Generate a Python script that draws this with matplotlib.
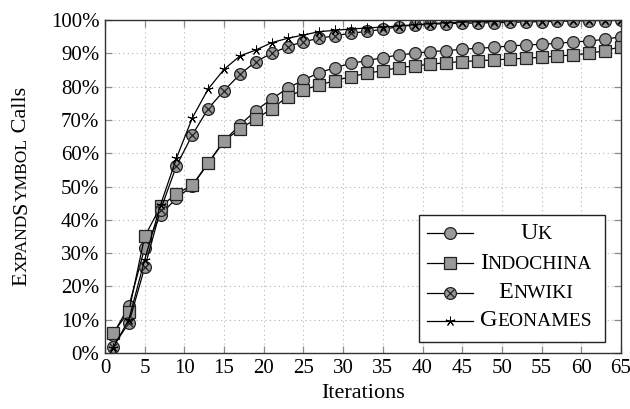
import matplotlib
matplotlib.use("Agg")
import matplotlib.pyplot as plt
from matplotlib.patches import Rectangle
from matplotlib.offsetbox import AnchoredOffsetbox, HPacker, TextArea
from matplotlib.ticker import FuncFormatter

plt.rcParams['font.family'] = ['Liberation Serif', 'DejaVu Serif']

iterations = [1, 3, 5, 7, 9, 11, 13, 15, 17, 19, 21, 23, 25, 27, 29, 31, 33,
              35, 37, 39, 41, 43, 45, 47, 49, 51, 53, 55, 57, 59, 61, 63, 65]
uk = [5.5, 14, 31.5, 41.5, 46.5, 50.2, 57, 63.7, 68.5, 72.8, 76.3, 79.5, 82,
      84.2, 85.7, 87, 87.8, 88.7, 89.5, 90, 90.5, 90.8, 91.2, 91.5, 91.8, 92.2,
      92.5, 92.7, 93, 93.4, 93.7, 94.2, 95]
indochina = [6, 12.4, 35, 44, 47.8, 50.4, 57.1, 63.7, 67.3, 70.3, 73.3, 77, 79,
             80.5, 81.8, 83, 84, 84.8, 85.7, 86.2, 86.7, 87.2, 87.5, 87.8, 88,
             88.3, 88.5, 88.8, 89.2, 89.5, 90, 90.8, 92]
enwiki = [1.9, 9, 25.7, 43, 56.2, 65.5, 73.4, 78.8, 83.7, 87.5, 90, 92, 93.5,
          94.5, 95.3, 96, 96.6, 97.2, 98, 98.5, 98.7, 98.9, 99.0, 99.1, 99.2,
          99.3, 99.4, 99.5, 99.6, 99.7, 99.8, 99.8, 99.9]
geonames = [1.5, 10, 28, 44.5, 58.5, 70.6, 79.3, 85.2, 89.2, 91, 93.2, 94.5,
            95.5, 96.5, 96.9, 97.3, 97.6, 97.9, 98.2, 98.6, 98.9, 99.2, 99.4,
            99.5, 99.6, 99.7, 99.8, 99.8, 99.9, 99.9, 100, 100, 100]

legend_labels = [("U", "K"), ("I", "NDOCHINA"), ("E", "NWIKI"), ("G", "EONAMES")]
ylabel_parts = [("E", True), ("XPAND", False), ("S", True), ("YMBOL", False), (" Calls", True)]
xlabel = "Iterations"
xticks = [0, 5, 10, 15, 20, 25, 30, 35, 40, 45, 50, 55, 60, 65]
yticks = [0, 10, 20, 30, 40, 50, 60, 70, 80, 90, 100]

fill = '#999999'
edge = '#222222'
ms = 8.5
star = (5, 2, 0)
star_ms = 7
star_mew = 0.7

fig = plt.figure(figsize=(6.3, 4.09), dpi=100)
ax = fig.add_axes([105/630, 1-353/409, (621-105)/630, (353-20)/409])

ax.plot(iterations, uk, color='black', lw=0.9, marker='o', ms=ms,
        mfc=fill, mec=edge, mew=0.9, zorder=3)
ax.plot(iterations, indochina, color='black', lw=0.9, marker='s', ms=ms-0.5,
        mfc=fill, mec=edge, mew=0.9, zorder=3)
ax.plot(iterations, enwiki, color='black', lw=0.9, marker='o', ms=ms,
        mfc=fill, mec=edge, mew=0.9, zorder=4)
ax.plot(iterations, enwiki, ls='none', marker='x', ms=ms*0.62,
        mec=edge, mew=0.9, zorder=4.1)
ax.plot(iterations, geonames, color='black', lw=0.9, marker=star, ms=star_ms,
        mec='black', mew=star_mew, zorder=5)

ax.set_xlim(0, 65)
ax.set_ylim(0, 100)
ax.set_xticks(xticks)
ax.set_yticks(yticks)
ax.yaxis.set_major_formatter(FuncFormatter(lambda v, p: f"{int(v)}%"))
ax.tick_params(direction='in', top=True, right=True, length=5, width=0.9,
               color='0.55', labelsize=15, pad=4)
ax.grid(True, ls=(0, (1, 3)), color='0.7', lw=0.8)
ax.set_axisbelow(True)
for s in ax.spines.values():
    s.set_linewidth(1.0)
    s.set_color('#333333')
    s.set_zorder(6)

ax.set_xlabel(xlabel, fontsize=16, labelpad=5)

# manual legend
lx0, lx1 = (419-105)/516, (605-105)/516
ly0, ly1 = (353-342)/333, (353-215)/333
ax.add_patch(Rectangle((lx0, ly0), lx1-lx0, ly1-ly0, transform=ax.transAxes,
                       facecolor='white', edgecolor='#222222', lw=1.0, zorder=10,
                       clip_on=False))
row_y = [(353-233.3)/333, (353-263.3)/333, (353-292.7)/333, (353-321)/333]
hx0, hx1, hxm = (427-105)/516, (472.7-105)/516, (450-105)/516
tx = (536-105)/516
marker_specs = [dict(marker='o', ms=ms, mfc=fill, mec=edge, mew=0.9),
                dict(marker='s', ms=ms-0.5, mfc=fill, mec=edge, mew=0.9),
                dict(marker='o', ms=ms, mfc=fill, mec=edge, mew=0.9),
                dict(marker=star, ms=star_ms, mfc='black', mec='black', mew=star_mew)]
for i, (yy, spec, (big, small)) in enumerate(zip(row_y, marker_specs, legend_labels)):
    ax.plot([hx0, hx1], [yy, yy], color='black', lw=0.9, transform=ax.transAxes,
            zorder=11, clip_on=False)
    ax.plot([hxm], [yy], ls='none', transform=ax.transAxes,
            zorder=12, clip_on=False, **spec)
    if i == 2:
        ax.plot([hxm], [yy], ls='none', marker='x', ms=ms*0.62, mec=edge, mew=0.9,
                transform=ax.transAxes, zorder=13, clip_on=False)
    box = HPacker(children=[TextArea(big, textprops=dict(fontsize=17.5)),
                            TextArea(small, textprops=dict(fontsize=14))],
                  align='baseline', pad=0, sep=0)
    ab = AnchoredOffsetbox(loc='center', child=box, pad=0, borderpad=0,
                           frameon=False, bbox_to_anchor=(tx, yy),
                           bbox_transform=ax.transAxes)
    ab.set_zorder(14)
    ax.add_artist(ab)

# y label with small caps
fig.canvas.draw()
renderer = fig.canvas.get_renderer()
texts = []
prev = None
xlab = 31/630
for part, isbig in ylabel_parts:
    fs = 16 if isbig else 12.5
    if prev is None:
        t = fig.text(xlab, 0.5, part, rotation=90, fontsize=fs,
                     ha='right', va='bottom')
    else:
        t = ax.annotate(part, xy=(1, 1), xycoords=prev, rotation=90, fontsize=fs,
                        ha='right', va='bottom', annotation_clip=False)
    texts.append(t)
    prev = t
fig.canvas.draw()
b0 = texts[0].get_window_extent(renderer)
b1 = texts[-1].get_window_extent(renderer)
total = b1.y1 - b0.y0
center = (353 + 20) / 2
start_y_px = 409 - center - total / 2
texts[0].set_position((xlab, start_y_px / 409))

fig.savefig("out.png", dpi=100)
